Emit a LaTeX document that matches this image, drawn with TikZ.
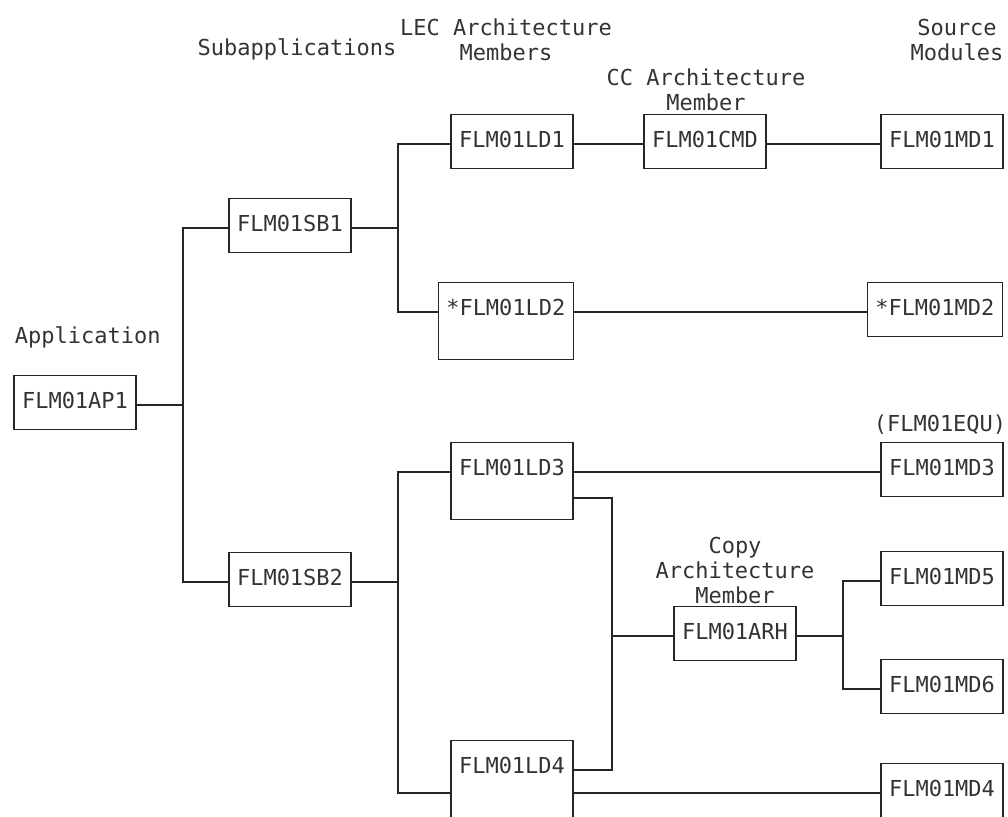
\documentclass[tikz,border=0pt]{standalone}
\usepackage{fontspec}
\setmainfont{DejaVu Sans Mono}

\begin{document}
\begin{tikzpicture}[x=0.75pt,y=-0.75pt,line width=0.8pt,draw=black!85,
        every node/.style={text=black!80,font=\fontsize{16.5pt}{18.75pt}\selectfont}]
        \tikzstyle{box}=[rectangle,draw,inner xsep=6pt,inner ysep=3pt,text height=21.75pt,text depth=12.75pt,anchor=mid]
        \tikzstyle{tallbox}=[box,text depth=30pt]
        \tikzstyle{head}=[align=center]
        \clip (0,0) rectangle (1008,817);
        \node [anchor=mid west] (lapp) at (10,340) {Application};
        \node [anchor=mid] (lsub) at (297,52) {Subapplications};
        \node [head] (llec) at (506,40) {LEC Architecture\\Members};
        \node [head] (lcc) at (706,90) {CC Architecture\\Member};
        \node [head] (lsrc) at (957,40) {Source\\Modules};
        \node [anchor=mid] (lequ) at (940,428) {(FLM01EQU)};
        \node [head] (lcopy) at (735,570) {Copy\\Architecture\\Member};
        \node [box] (ap1) at (75,405) {FLM01AP1};
        \node [box] (sb1) at (290,228) {FLM01SB1};
        \node [box] (sb2) at (290,582) {FLM01SB2};
        \node [box] (ld1) at (512,144) {FLM01LD1};
        \node [tallbox,anchor=mid east] (ld2) at (574,312) {*FLM01LD2};
        \node [tallbox] (ld3) at (512,472) {FLM01LD3};
        \node [tallbox] (ld4) at (512,770) {FLM01LD4};
        \node [box] (cmd) at (705,144) {FLM01CMD};
        \node [box] (arh) at (735,636) {FLM01ARH};
        \node [box] (md1) at (942,144) {FLM01MD1};
        \node [box,anchor=mid east] (md2) at (1003,312) {*FLM01MD2};
        \node [box] (md3) at (942,472) {FLM01MD3};
        \node [box] (md5) at (942,581) {FLM01MD5};
        \node [box] (md6) at (942,689) {FLM01MD6};
        \node [box] (md4) at (942,793) {FLM01MD4};
        \coordinate (j1) at (183,405);
        \coordinate (j2) at (398,228);
        \coordinate (j3) at (398,582);
        \coordinate (j4) at (612,636);
        \coordinate (j5) at (843,636);
        \draw (ap1.mid east) -- (j1);
        \draw (sb1.mid west) -| (j1) |- (sb2.mid west);
        \draw (sb1.mid east) -- (j2);
        \draw (ld1.mid west) -| (j2) |- (ld2.mid west);
        \draw (sb2.mid east) -- (j3);
        \draw (ld3.mid west) -| (j3) |- ([yshift=-17.25pt]ld4.mid west);
        \draw (ld1.mid east) -- (cmd.mid west);
        \draw (cmd.mid east) -- (md1.mid west);
        \draw (ld2.mid east) -- (md2.mid west);
        \draw (ld3.mid east) -- (md3.mid west);
        \draw ([yshift=-17.25pt]ld4.mid east) -- (md4.mid west);
        \draw ([yshift=-19.5pt]ld3.mid east) -| (j4) |- (ld4.mid east);
        \draw (j4) -- (arh.mid west);
        \draw (arh.mid east) -- (j5);
        \draw (md5.mid west) -| (j5) |- (md6.mid west);
\end{tikzpicture}
\end{document}
